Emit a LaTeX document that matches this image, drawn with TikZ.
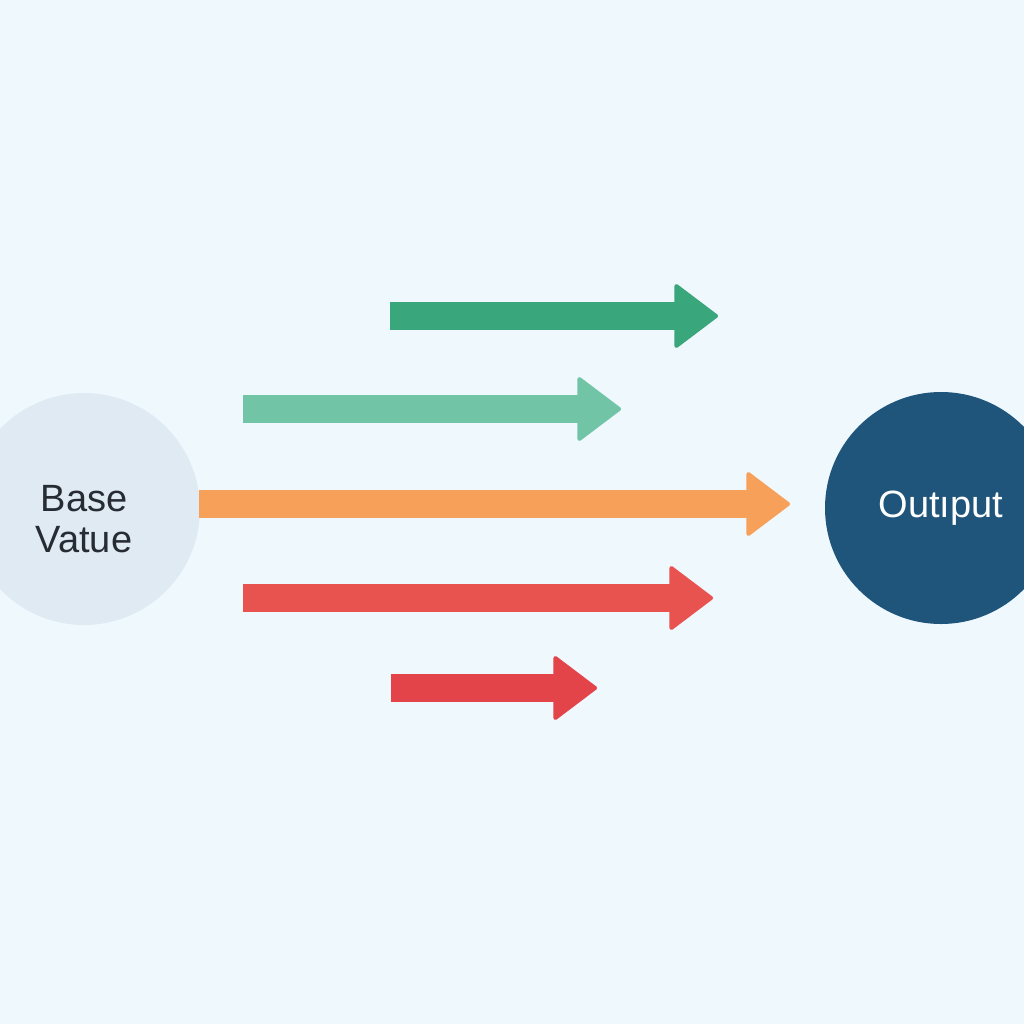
\documentclass[tikz,border=0pt]{standalone}
\usepackage{fontspec}
\setmainfont{Liberation Sans}
\usetikzlibrary{arrows.meta,positioning}

\definecolor{bgblue}{HTML}{EEF8FD}
\definecolor{basefill}{HTML}{E0EAF3}
\definecolor{outfill}{HTML}{20557B}
\definecolor{darkgreen}{HTML}{3AA67B}
\definecolor{lightgreen}{HTML}{72C4A7}
\definecolor{orangeflow}{HTML}{F6A05A}
\definecolor{redflow}{HTML}{E9534F}
\definecolor{deepred}{HTML}{E2444A}
\definecolor{inkdark}{HTML}{272C33}

\tikzset{
  bubble/.style={circle,inner sep=0pt,minimum size=232pt,align=center,
    font=\fontsize{38}{41}\selectfont},
  flow/.style={line width=28pt,
    -{Triangle[length=45pt,width=67pt,round,line width=4pt]}},
}

\begin{document}
\begin{tikzpicture}[x=1pt,y=-1pt]
  \useasboundingbox (0,0) rectangle (1024,1024);
  \fill[bgblue] (0,0) rectangle (1024,1024);

  % the two circles
  \node[bubble,fill=basefill,text=inkdark] (base) at (84,509)
    {\rule{0pt}{45.5pt}Base\\Vatue};
  \node[bubble,fill=outfill,text=white]    (out)  at (941,508) {Outıput};

  % arrow ends
  \coordinate (g1s) at (390,316);  \coordinate (g1e) at (718,316);
  \coordinate (g2s) at (243,409);  \coordinate (g2e) at (621,409);
  \coordinate (o1s) at (199,504);  \coordinate (o1e) at (790,504);
  \coordinate (r1s) at (243,598);  \coordinate (r1e) at (713,598);
  \coordinate (r2s) at (391,688);  \coordinate (r2e) at (597,688);

  \draw[flow,darkgreen]  (g1s) -- (g1e);
  \draw[flow,lightgreen] (g2s) -- (g2e);
  \draw[flow,orangeflow] (o1s) -- (o1e);
  \draw[flow,redflow]    (r1s) -- (r1e);
  \draw[flow,deepred]    (r2s) -- (r2e);
\end{tikzpicture}
\end{document}
